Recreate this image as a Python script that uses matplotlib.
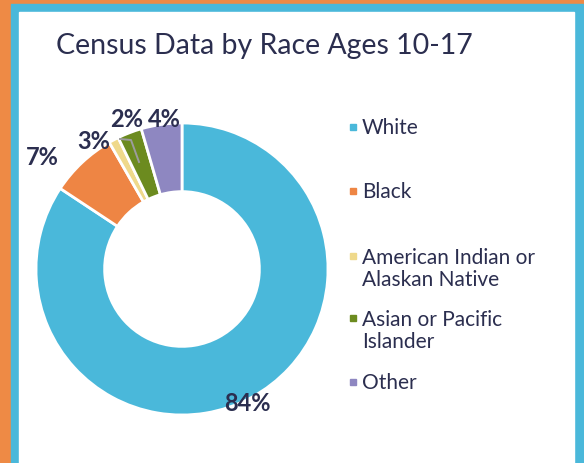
import matplotlib.pyplot as plt
from matplotlib.patches import Rectangle

# data (wedge sizes) and the printed labels
races = ['White', 'Black', 'American Indian or\nAlaskan Native',
         'Asian or Pacific\nIslander', 'Other']
shares = [84.3, 7.4, 1.1, 2.7, 4.5]
pct_labels = ['84%', '7%', '3%', '2%', '4%']
colors = ['#4AB8DA', '#EE8544', '#EFD98B', '#6C8B1F', '#8E87C1']

TEXT = '#2B2E4F'
plt.rcParams['font.family'] = ['Lato', 'DejaVu Sans']

fig = plt.figure(figsize=(5.84, 4.64), dpi=100)
W, H = 584, 464


def px_rect(x0, y0, x1, y1, color, z=-10):
    fig.patches.append(Rectangle((x0 / W, 1 - y1 / H), (x1 - x0) / W, (y1 - y0) / H,
                                 transform=fig.transFigure, color=color, zorder=z))


px_rect(0, 0, W, H, '#EE8A45', -12)
px_rect(11, 5, 583, H, '#4AB8DA', -11)
px_rect(19, 13, 574, H, 'white', -10)

fig.text(264 / W, 1 - 46 / H, 'Census Data by Race Ages 10-17', ha='center', va='center',
         fontsize=20.5, color=TEXT)

# donut: center (182, 270), radius 146 px
cx, cy, r = 182, 270, 146
ax = fig.add_axes([(cx - r) / W, 1 - (cy + r) / H, 2 * r / W, 2 * r / H], zorder=5)
ax.patch.set_visible(False)
ax.pie(shares, colors=colors, startangle=90, counterclock=False, radius=1,
       wedgeprops=dict(width=0.47, edgecolor='white', linewidth=2))
ax.set_xlim(-1, 1)
ax.set_ylim(-1, 1)
ax.set_aspect('equal')
ax.axis('off')

# percentage labels (pixel positions from the reference)
label_pos = [(247, 404), (42, 158), (94, 142), (127, 120), (164, 120)]
for (x, y), t in zip(label_pos, pct_labels):
    fig.text(x / W, 1 - y / H, t, ha='center', va='center', fontsize=17,
             fontweight='bold', color=TEXT, zorder=10)

# leader line for the 2% label
fig.add_artist(plt.Line2D([120 / W, 131 / W, 139 / W],
                          [1 - 140 / H, 1 - 141 / H, 1 - 163 / H],
                          color='#9C9C9C', linewidth=1.4, zorder=10))

# legend drawn by hand to match the spacing
marker_y = [128, 192, 257, 319, 383]
text_y = [128, 192, 269, 331, 383]
for my, ty, name, c in zip(marker_y, text_y, races, colors):
    fig.patches.append(Rectangle((350 / W, 1 - (my + 3) / H), 6 / W, 6 / H,
                                 transform=fig.transFigure, color=c, zorder=1))
    fig.text(362 / W, 1 - ty / H, name, ha='left', va='center', fontsize=15,
             color=TEXT, linespacing=1.15)

fig.savefig('out.png', dpi=100)
